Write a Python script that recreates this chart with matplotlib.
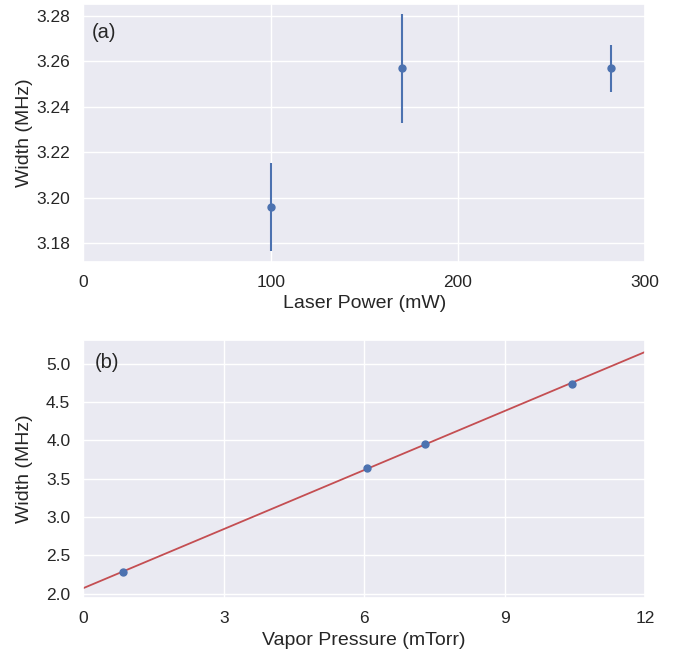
import matplotlib
matplotlib.use("Agg")
import matplotlib.pyplot as plt
import numpy as np
import seaborn as sns

# (a) width vs laser power
power = [100, 170, 282]
width_a = [3.196, 3.257, 3.257]
err_a = [0.0195, 0.024, 0.0104]

# (b) width vs vapor pressure
pressure = [0.85, 6.05, 7.3, 10.45]
width_b = [2.28, 3.645, 3.95, 4.74]

sns.set_theme(style="darkgrid", palette="deep")
plt.rcParams["font.family"] = ["Liberation Sans", "DejaVu Sans"]

blue = "#4C72B0"
red = "#C44E52"

fig = plt.figure(figsize=(6.84, 6.51), dpi=100)
ax1 = fig.add_axes([0.122, 0.598, 0.821, 0.396])
ax2 = fig.add_axes([0.122, 0.081, 0.821, 0.397])

ax1.errorbar(power, width_a, yerr=err_a, fmt="o", color=blue,
             markersize=5, elinewidth=1.5, capsize=0)
ax1.set_xlim(0, 300)
ax1.set_ylim(3.172, 3.2853)
ax1.set_xticks([0, 100, 200, 300])
ax1.set_yticks([3.18, 3.20, 3.22, 3.24, 3.26, 3.28])
ax1.set_yticklabels(["3.18", "3.20", "3.22", "3.24", "3.26", "3.28"])
ax1.set_xlabel("Laser Power (mW)", fontsize=14)
ax1.set_ylabel("Width (MHz)", fontsize=14)
ax1.tick_params(labelsize=12.5)
ax1.text(0.014, 0.925, "(a)", transform=ax1.transAxes, fontsize=14.5, va="top")

# linear fit
slope, icpt = np.polyfit(pressure, width_b, 1)
xs = np.array([0, 12])
ax2.plot(xs, icpt + slope * xs, color=red, lw=1.3)
ax2.plot(pressure, width_b, "o", color=blue, markersize=5)
ax2.set_xlim(0, 12)
ax2.set_ylim(1.94, 5.31)
ax2.set_xticks([0, 3, 6, 9, 12])
ax2.set_yticks([2.0, 2.5, 3.0, 3.5, 4.0, 4.5, 5.0])
ax2.set_xlabel("Vapor Pressure (mTorr)", fontsize=14)
ax2.set_ylabel("Width (MHz)", fontsize=14)
ax2.tick_params(labelsize=12.5)
ax2.text(0.02, 0.95, "(b)", transform=ax2.transAxes, fontsize=14.5, va="top")

for ax in (ax1, ax2):
    ax.yaxis.set_label_coords(-0.09, 0.5)

fig.savefig("out.png", dpi=100)
